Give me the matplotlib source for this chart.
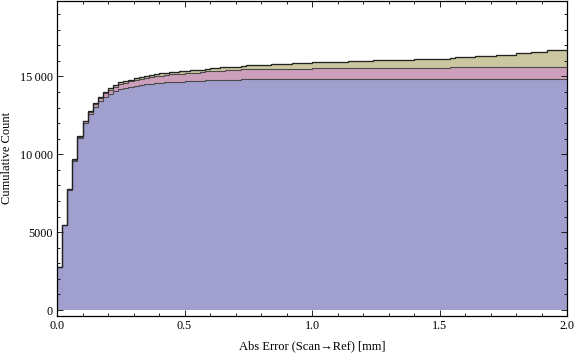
import numpy as np
import matplotlib
matplotlib.use("Agg")
import matplotlib.pyplot as plt
from matplotlib.ticker import MultipleLocator, FixedLocator

# bin edges of the histogram (0.02 mm wide)
bin_edges = np.linspace(0.0, 2.0, 101)

# cumulative counts per series (one value per bin)
blue_cum = [2760, 5440, 7720, 9580, 11040, 12000, 12560, 13030, 13400, 13680,
            13890, 14050, 14200, 14270, 14340, 14400, 14450, 14500, 14540, 14570,
            14600, 14620, 14640, 14655, 14670, 14680, 14690, 14700, 14700, 14760,
            14760, 14760, 14760, 14770, 14780, 14790, 14830, 14830, 14830, 14830] \
    + [14830] * 10 + [14835] * 10 + [14840] * 10 + [14845] * 10 + [14850] * 20

pink_cum = [15, 35, 60, 80, 100, 130, 160, 190, 220, 250,
            270, 295, 320, 340, 360, 380, 400, 415, 430, 445,
            460, 475, 490, 505, 515, 525, 535, 545, 560, 570,
            570, 570, 620, 620, 620, 620, 625, 625, 625, 625,
            625, 625] + [660] * 8 + [690] * 27 + [750] * 23

olive_cum = [5, 10, 15, 20, 25, 30, 35, 45, 55, 65,
             75, 85, 95, 100, 105, 110, 115, 120, 125, 130,
             135, 140, 145, 150, 155, 160, 165, 170, 175, 180,
             185, 190, 200, 210, 220, 230, 240, 250, 255, 260,
             265, 270, 300, 300, 305, 305, 390, 390, 390, 390,
             390] + [395] * 6 + [455] * 5 + [520] * 7 + [560] * 5 \
    + [615] * 4 + [645] * 4 + [730] * 4 + [810] * 4 + [920] * 3 \
    + [980] * 3 + [1090] * 4

series = [blue_cum, pink_cum, olive_cum]
colors = ["#a19fce", "#cc9fba", "#cbc7a0"]

y_ticks = [0, 5000, 10000, 15000]
y_tick_labels = ["0", "5000", "10\u2009000", "15\u2009000"]
x_ticks = [0.0, 0.5, 1.0, 1.5, 2.0]

plt.rcParams["font.family"] = ["Liberation Serif", "DejaVu Serif"]

fig = plt.figure(figsize=(5.76, 3.56), dpi=100)
ax = fig.add_axes([57 / 576, 40 / 356, 510 / 576, 315.5 / 356])

base = np.zeros(len(bin_edges) - 1)
for i, (vals, col) in enumerate(zip(series, colors)):
    top = base + np.asarray(vals, dtype=float)
    ax.stairs(top, bin_edges, baseline=base, fill=True, color=col, lw=0, zorder=1)
    last = i == len(series) - 1
    ax.stairs(top, bin_edges, baseline=None, fill=False,
              color="#222222" if last else "#4a4a4a",
              lw=0.95 if last else 0.8, zorder=2)
    base = top

ax.set_xlim(0, 2.0)
ax.set_ylim(-385, 19880)

ax.xaxis.set_major_locator(FixedLocator(x_ticks))
ax.xaxis.set_minor_locator(MultipleLocator(0.1))
ax.yaxis.set_major_locator(FixedLocator(y_ticks))
ax.yaxis.set_minor_locator(MultipleLocator(1000))
ax.set_xticklabels(["%.1f" % t for t in x_ticks])
ax.set_yticklabels(y_tick_labels)

ax.tick_params(which="both", direction="in", top=True, right=True,
               width=0.6, labelsize=8.7, pad=3)
ax.tick_params(which="major", length=4)
ax.tick_params(which="minor", length=2.5)
for sp in ax.spines.values():
    sp.set_linewidth(0.9)
    sp.set_zorder(3)

ax.set_xlabel("Abs Error (Scan\u2192Ref) [mm]", fontsize=9, labelpad=6)
ax.set_ylabel("Cumulative Count", fontsize=9, labelpad=5)

fig.savefig("out.png", dpi=100)
